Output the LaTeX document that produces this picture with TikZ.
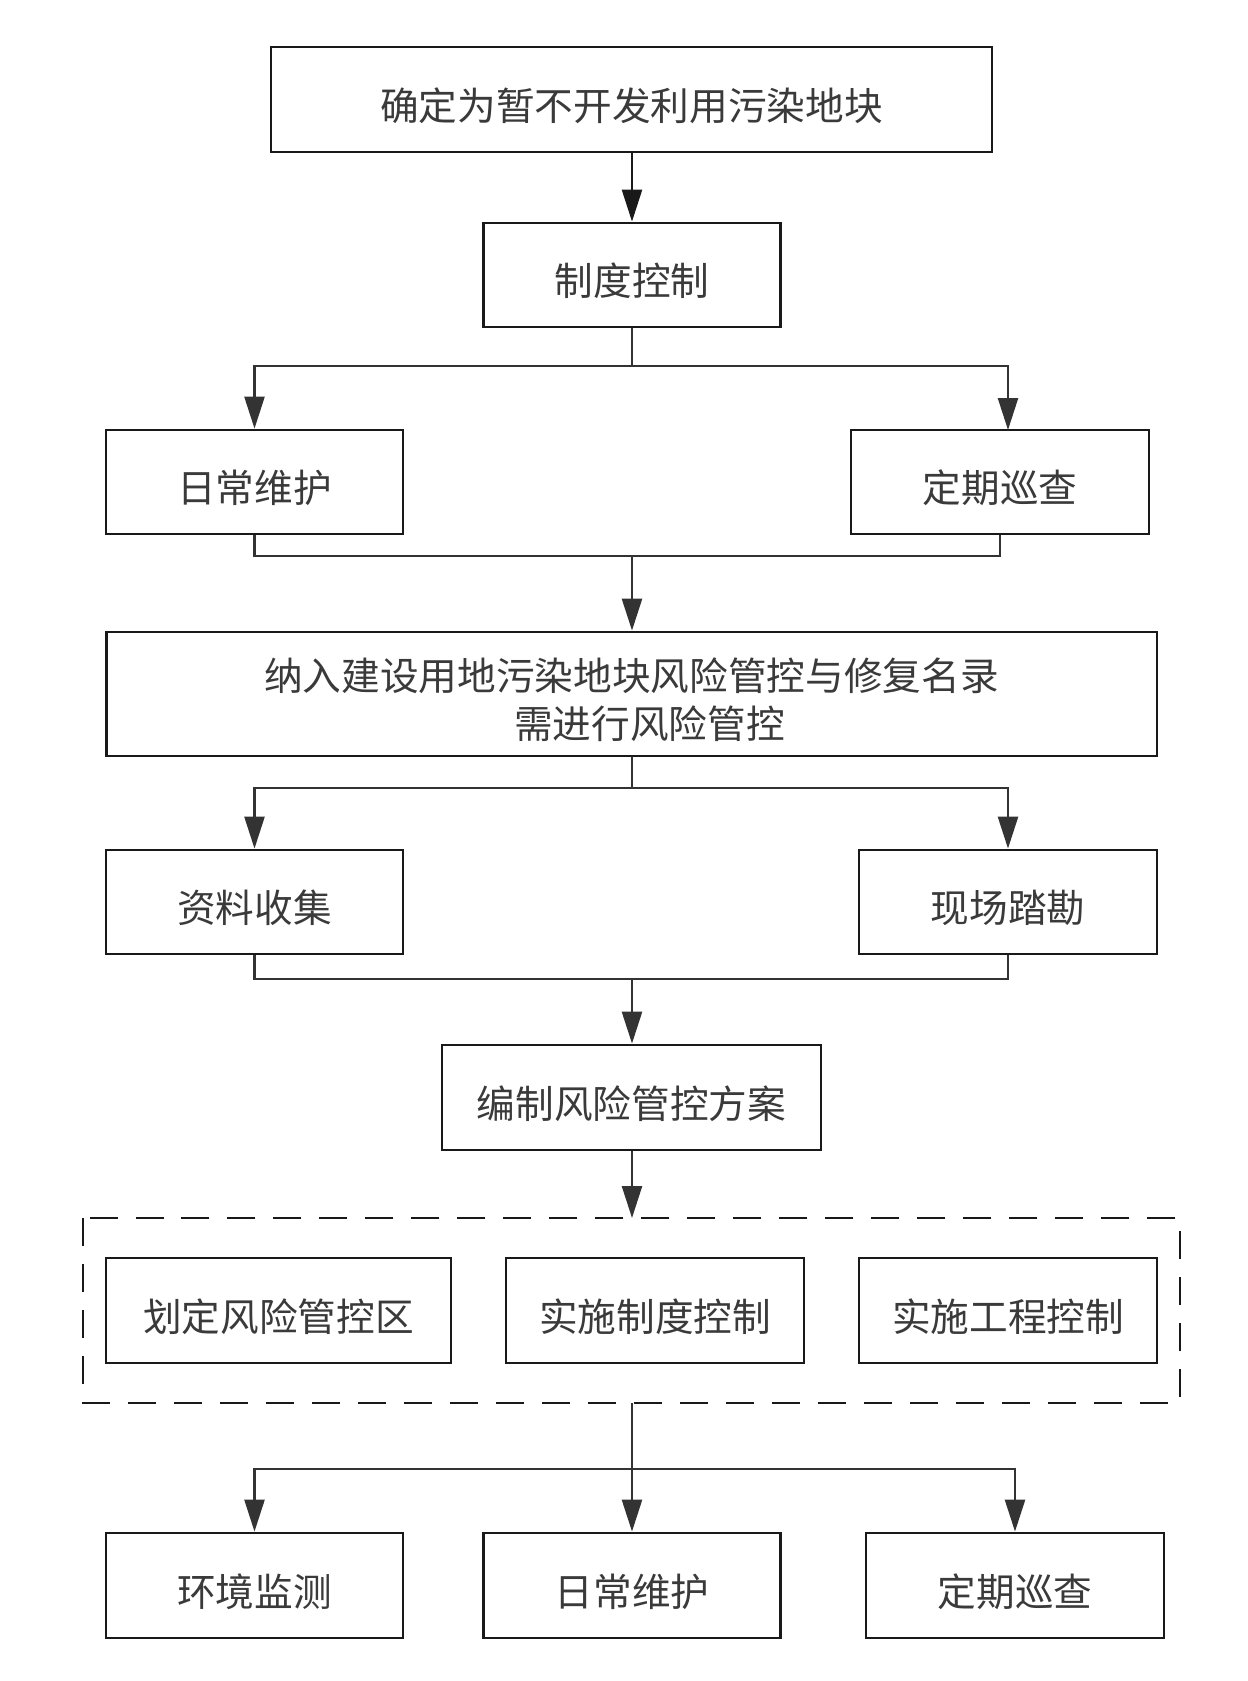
\documentclass[tikz,border=0pt]{standalone}
\usepackage{fontspec}
\setmainfont{Noto Sans CJK SC}
\usetikzlibrary{arrows.meta}
\definecolor{linegray}{HTML}{333333}
\definecolor{textgray}{HTML}{3A3A3A}
\begin{document}
\begin{tikzpicture}[x=0.02cm, y=-0.02cm,
  font=\fontsize{22}{27.5}\selectfont, text=textgray,
  box/.style={draw=black!90, line width=1.6pt, minimum height=2.08cm, align=center, inner sep=0pt,
    execute at begin node=\rule{0pt}{1.15em}},
  link/.style={draw=linegray, line width=1.4pt},
  arr/.style={link, -{Triangle[length=0.64cm, width=0.4cm]}}]
  \useasboundingbox (0,0) rectangle (1248,1681);
  % top part
  \node[box, minimum width=14.42cm, minimum height=2.1cm] (plot) at (631.5,99.5) {确定为暂不开发利用污染地块};
  \node[box, minimum width=5.94cm] (zhidu) at (632,275) {制度控制};
  \node[box, minimum width=5.94cm] (weihu) at (254.5,482) {日常维护};
  \node[box, minimum width=5.96cm] (xuncha) at (1000,482) {定期巡查};
  \node[box, minimum width=21.02cm, minimum height=2.48cm, execute at begin node={}] (minglu) at (631.5,694)
    {\raisebox{-0.22cm}[\height][\depth]{\begin{tabular}{@{}c@{}}纳入建设用地污染地块风险管控与修复名录\\\hspace*{0.72cm}需进行风险管控\end{tabular}}};
  \node[box, minimum width=5.94cm] (ziliao) at (254.5,902) {资料收集};
  \node[box, minimum width=5.96cm] (kancha) at (1008,902) {现场踏勘};
  \node[box, minimum width=7.58cm, minimum height=2.1cm] (fangan) at (631.5,1097.5) {编制风险管控方案};
  % measures
  \draw[line width=1.6pt, black!90, dash pattern=on 0.56cm off 0.36cm] (83,1218) rectangle (1180,1403);
  \coordinate (grp top) at (632,1218);
  \coordinate (grp bot) at (632,1403);
  \node[box, minimum width=6.9cm, minimum height=2.1cm] (quhua) at (278.5,1310.5) {划定风险管控区};
  \node[box, minimum width=5.96cm, minimum height=2.1cm] (sszd) at (655,1310.5) {实施制度控制};
  \node[box, minimum width=5.96cm, minimum height=2.1cm] (ssgc) at (1008,1310.5) {实施工程控制};
  % follow-up
  \node[box, minimum width=5.94cm, minimum height=2.1cm] (jiance) at (254.5,1585.5) {环境监测};
  \node[box, minimum width=5.94cm, minimum height=2.1cm] (weihu2) at (632,1585.5) {日常维护};
  \node[box, minimum width=5.96cm, minimum height=2.1cm] (xuncha2) at (1015,1585.5) {定期巡查};
  % connectors
  \coordinate (s1) at (632,366);
  \coordinate (xuncha in) at (1008,430);
  \coordinate (m1) at (632,556);
  \coordinate (s2) at (632,788);
  \coordinate (m2) at (632,979);
  \coordinate (s3) at (632,1469);
  \draw[arr, draw=black!90] (plot.south -| zhidu.north) -- (zhidu.north);
  \draw[link] (zhidu.south) -- (s1);
  \draw[arr] (s1) -| (weihu.north);
  \draw[arr] (s1) -| (xuncha in);
  \draw[link] (weihu.south) |- (m1) -| (xuncha.south);
  \draw[arr] (m1) -- (m1 |- minglu.north);
  \draw[link] (minglu.south -| s2) -- (s2);
  \draw[arr] (s2) -| (ziliao.north);
  \draw[arr] (s2) -| (kancha.north);
  \draw[link] (ziliao.south) |- (m2) -| (kancha.south);
  \draw[arr] (m2) -- (m2 |- fangan.north);
  \draw[arr] (fangan.south -| grp top) -- (grp top);
  \draw[arr] (grp bot) -- (grp bot |- weihu2.north);
  \draw[arr] (s3) -| (jiance.north);
  \draw[arr] (s3) -| (xuncha2.north);
\end{tikzpicture}
\end{document}
